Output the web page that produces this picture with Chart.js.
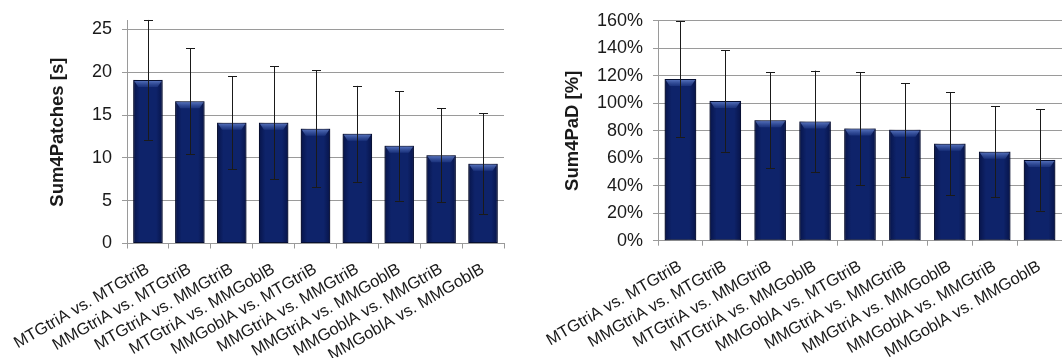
<!DOCTYPE html>
<html>
<head>
<meta charset="utf-8">
<script src="https://cdn.jsdelivr.net/npm/chart.js@4.4.1/dist/chart.umd.min.js"></script>
<style>
  html, body { margin: 0; padding: 0; background: #fff; }
  .wrap { display: flex; width: 1062px; height: 358px; }
  .box { position: relative; width: 531px; height: 358px; }
</style>
</head>
<body>
<div class="wrap">
  <div class="box"><canvas id="patchesChart"></canvas></div>
  <div class="box"><canvas id="padChart"></canvas></div>
</div>
<script>
// comparison pairs (same for both panels)
const pairLabels = [
  'MTGtriA vs. MTGtriB',
  'MMGtriA vs. MTGtriB',
  'MTGtriA vs. MMGtriB',
  'MTGtriA vs. MMGoblB',
  'MMGoblA vs. MTGtriB',
  'MMGtriA vs. MMGtriB',
  'MMGtriA vs. MMGoblB',
  'MMGoblA vs. MMGtriB',
  'MMGoblA vs. MMGoblB'
];

// left panel: Sum4Patches [s], mean and +/- error
const patchesMean = [19.1, 16.6, 14.1, 14.1, 13.4, 12.8, 11.4, 10.3, 9.3];
const patchesErr  = [7.0, 6.2, 5.4, 6.6, 6.8, 5.6, 6.4, 5.5, 5.9];

// right panel: Sum4PaD [%]
const padMean = [117.6, 101.7, 87.7, 86.7, 81.6, 80.7, 70.6, 64.8, 58.8];
const padErr  = [42, 37, 35, 37, 41, 34, 37.5, 33, 37];

const FONT = "'Liberation Sans', Arial, sans-serif";

// bevel/shade over each bar, then error whiskers
const barDecor = {
  id: 'barDecor',
  beforeDatasetDraw(chart) {
    const ctx = chart.ctx;
    ctx.save();
    ctx.shadowColor = 'rgba(0,0,0,0.5)';
    ctx.shadowBlur = 8;
    ctx.shadowOffsetX = -2;
    ctx.shadowOffsetY = 0;
  },
  afterDatasetDraw(chart, args, opts) {
    const ctx = chart.ctx;
    ctx.restore();
    const meta = chart.getDatasetMeta(0);
    const yScale = chart.scales.y;
    const errs = opts.errors || [];
    meta.data.forEach((bar, i) => {
      const { x, y, base, width } = bar.getProps(['x', 'y', 'base', 'width'], true);
      const l = x - width / 2, r = x + width / 2;
      // horizontal shading
      const g = ctx.createLinearGradient(l, 0, r, 0);
      g.addColorStop(0, 'rgba(0,5,40,0.5)');
      g.addColorStop(0.22, 'rgba(0,5,40,0.0)');
      g.addColorStop(0.78, 'rgba(0,5,40,0.0)');
      g.addColorStop(1, 'rgba(0,5,40,0.5)');
      ctx.fillStyle = g;
      ctx.fillRect(l, y, width, base - y);
      // top bevel
      ctx.beginPath();
      ctx.moveTo(l + 1, y + 1);
      ctx.lineTo(r - 1, y + 1);
      ctx.lineTo(r - 5, y + 7);
      ctx.lineTo(l + 5, y + 7);
      ctx.closePath();
      const bg = ctx.createLinearGradient(0, y, 0, y + 7);
      bg.addColorStop(0, 'rgba(110,140,215,0.85)');
      bg.addColorStop(1, 'rgba(60,90,170,0.3)');
      ctx.fillStyle = bg;
      ctx.fill();
      // error bar
      const v = chart.data.datasets[0].data[i];
      const e = errs[i];
      if (e == null) return;
      const yHi = yScale.getPixelForValue(v + e);
      const yLo = yScale.getPixelForValue(v - e);
      ctx.save();
      ctx.strokeStyle = '#1a1a1a';
      ctx.lineWidth = 1;
      ctx.beginPath();
      ctx.moveTo(Math.round(x) + 0.5, yHi);
      ctx.lineTo(Math.round(x) + 0.5, yLo);
      ctx.moveTo(Math.round(x) - 4, Math.round(yHi) + 0.5);
      ctx.lineTo(Math.round(x) + 5, Math.round(yHi) + 0.5);
      ctx.moveTo(Math.round(x) - 4, Math.round(yLo) + 0.5);
      ctx.lineTo(Math.round(x) + 5, Math.round(yLo) + 0.5);
      ctx.stroke();
      ctx.restore();
    });
  }
};

function makeChart(id, values, errors, cfg) {
  const ctx = document.getElementById(id).getContext('2d');
  return new Chart(ctx, {
    type: 'bar',
    data: {
      labels: pairLabels,
      datasets: [{
        data: values,
        backgroundColor: '#0e236a',
        borderColor: '#081540',
        borderWidth: 1,
        borderSkipped: false,
        categoryPercentage: 1.0,
        barPercentage: 0.7
      }]
    },
    options: {
      responsive: true,
      maintainAspectRatio: false,
      animation: false,
      layout: { padding: cfg.padding },
      plugins: {
        legend: { display: false },
        tooltip: { enabled: false },
        barDecor: { errors: errors }
      },
      scales: {
        x: {
          offset: true,
          afterFit: s => {
            s.height = cfg.xHeight;
            s.paddingLeft = 0;
            s.paddingRight = 0;
          },
          grid: {
            offset: true,
            drawOnChartArea: false,
            drawTicks: true,
            tickLength: 5,
            color: '#9a9a9a'
          },
          border: { color: '#9a9a9a' },
          ticks: {
            autoSkip: false,
            minRotation: 30,
            maxRotation: 30,
            padding: 11,
            color: '#1a1a1a',
            font: { family: FONT, size: 16.5 }
          }
        },
        y: {
          min: 0,
          max: cfg.max,
          afterFit: s => { s.width = cfg.yWidth; },
          grid: {
            color: '#9a9a9a',
            tickLength: 5
          },
          border: { color: '#9a9a9a' },
          title: {
            display: true,
            text: cfg.title,
            color: '#1a1a1a',
            padding: { top: 7, bottom: 0 },
            font: { family: FONT, size: 18.5, weight: 'bold' }
          },
          ticks: {
            stepSize: cfg.step,
            includeBounds: false,
            padding: 10,
            color: '#1a1a1a',
            font: { family: FONT, size: 18 },
            callback: cfg.fmt
          }
        }
      }
    },
    plugins: [barDecor]
  });
}

makeChart('patchesChart', patchesMean, patchesErr, {
  title: 'Sum4Patches [s]',
  max: 26,
  step: 5,
  fmt: v => v,
  padding: { left: 40, right: 27, top: 14, bottom: 0 },
  yWidth: 87,
  xHeight: 114.5
});

makeChart('padChart', padMean, padErr, {
  title: 'Sum4PaD [%]',
  max: 160,
  step: 20,
  fmt: v => v + '%',
  padding: { left: 24, right: 0, top: 19, bottom: 0 },
  yWidth: 103,
  xHeight: 117.3
});
</script>
</body>
</html>
